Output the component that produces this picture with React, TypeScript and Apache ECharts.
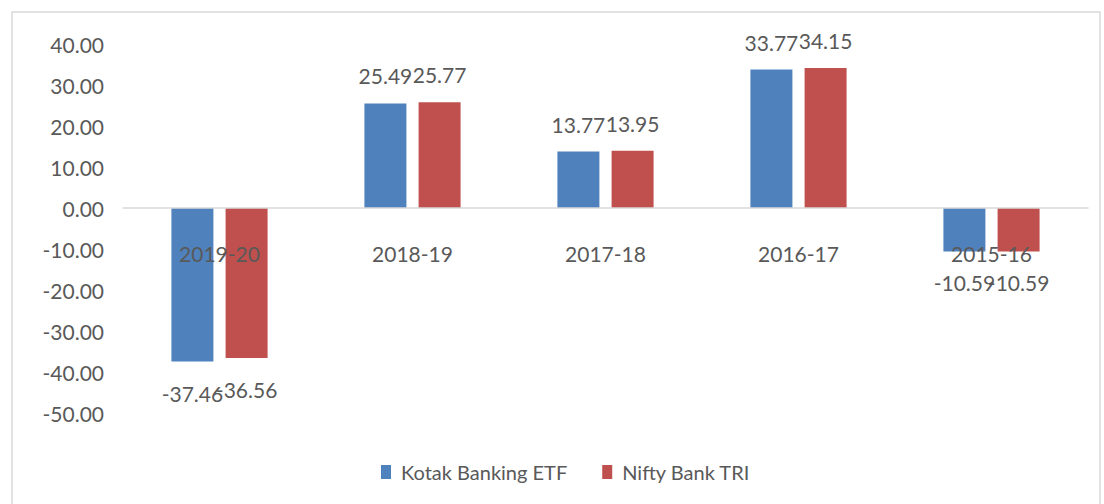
import React, { useEffect, useRef } from "react";
import * as echarts from "echarts";

const categories = ["2019-20", "2018-19", "2017-18", "2016-17", "2015-16"];
const kotakBankingETF = [-37.46, 25.49, 13.77, 33.77, -10.59];
const niftyBankTRI = [-36.56, 25.77, 13.95, 34.15, -10.59];
const seriesNames = ["Kotak Banking ETF", "Nifty Bank TRI"];

const FONT = "Lato";
const TEXT = "#595959";

const Y_MIN = -50;
const Y_MAX = 40;
const GRID_TOP = 44;
const GRID_BOTTOM = 91;
const CHART_H = 504;

export default function App() {
  const ref = useRef<HTMLDivElement>(null);
  useEffect(() => {
    if (!ref.current) return;
    const chart = echarts.init(ref.current, undefined, { renderer: "svg" });
    const plotH = CHART_H - GRID_TOP - GRID_BOTTOM;
    const zeroFromBottom = (0 - Y_MIN) / (Y_MAX - Y_MIN) * plotH;
    const label = {
      show: true,
      color: TEXT,
      fontFamily: FONT,
      fontSize: 21,
      formatter: (p: any) => p.value.toFixed(2),
    };
    const mkData = (vals: number[]) =>
      vals.map((v) => ({
        value: v,
        label: v >= 0 ? { position: "top", distance: 17 } : { position: "bottom", distance: 21 },
      }));
    chart.setOption({
      animation: false,
      backgroundColor: "#ffffff",
      graphic: [
        {
          type: "rect",
          shape: { x: 12, y: 12, width: 1088, height: 500 },
          style: { fill: "none", stroke: "#D9D9D9", lineWidth: 1.5 },
          silent: true,
        },
      ],
      grid: { left: 123, right: 16, top: GRID_TOP, bottom: GRID_BOTTOM },
      legend: {
        left: 376,
        top: 457,
        itemWidth: 10,
        itemHeight: 14,
        itemGap: 35,
        icon: "rect",
        textStyle: {
          color: TEXT,
          fontFamily: FONT,
          fontSize: 20,
          padding: [0, 0, 0, 5],
        },
        data: seriesNames,
      },
      xAxis: {
        type: "category",
        data: categories,
        z: 10,
        offset: -zeroFromBottom,
        axisLine: { show: true, onZero: false, lineStyle: { color: "#D9D9D9", width: 1.5 } },
        axisTick: { show: false },
        axisLabel: {
          color: TEXT,
          fontFamily: FONT,
          fontSize: 21,
          margin: 35,
        },
      },
      yAxis: {
        type: "value",
        min: Y_MIN,
        max: Y_MAX,
        interval: 10,
        axisLine: { show: false },
        axisTick: { show: false },
        splitLine: { show: false },
        axisLabel: {
          color: TEXT,
          fontFamily: FONT,
          fontSize: 21,
          margin: 19,
          formatter: (v: number) => v.toFixed(2),
        },
      },
      series: [
        {
          name: seriesNames[0],
          type: "bar",
          data: mkData(kotakBankingETF),
          barWidth: 42,
          barGap: "29%",
          itemStyle: { color: "#4F81BD" },
          label,
        },
        {
          name: seriesNames[1],
          type: "bar",
          data: mkData(niftyBankTRI),
          barWidth: 42,
          barGap: "29%",
          itemStyle: { color: "#C0504D" },
          label,
        },
      ],
    });
    return () => chart.dispose();
  }, []);
  return (
    <div
      ref={ref}
      style={{ position: "fixed", left: 0, top: 0, width: 1104, height: CHART_H }}
    />
  );
}
